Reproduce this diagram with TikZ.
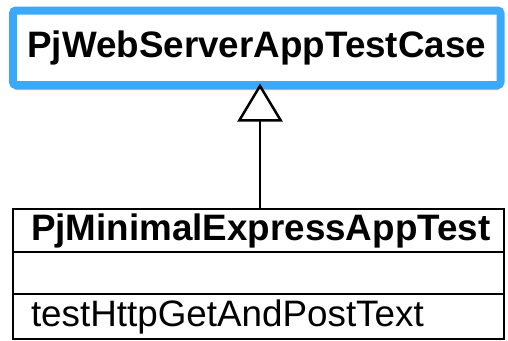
\documentclass[tikz,border=0pt]{standalone}
\usepackage{fontspec}
\setmainfont{Liberation Sans}
\usetikzlibrary{positioning,arrows.meta,shadows}
\definecolor{ClassBlue}{RGB}{60,168,248}

\tikzset{
  uml/.style={font=\fontsize{36.8}{40}\selectfont, inner sep=0pt, outer sep=0pt},
  parent/.style={uml,font=\fontsize{36.8}{40}\selectfont\bfseries,draw=ClassBlue,line width=8pt,fill=white,
    rounded corners=3pt,minimum width=487.5pt,minimum height=74.5pt,
    drop shadow={shadow xshift=0pt,shadow yshift=-5pt,opacity=.4,fill=black!70}},
  part/.style={uml,draw=black,line width=2pt,minimum width=491pt,text width=491pt-36pt,inner xsep=18pt},
  inherit/.style={line width=2.5pt,-{Triangle[open,length=38pt,width=45pt]}}
}

\begin{document}
\begin{tikzpicture}[x=1pt,y=-1pt]
\useasboundingbox (0,0) rectangle (508,340);
% superclass
\node[parent] (base) at (256.75,47.75) {PjWebServerAppTestCase};
% subclass in three compartments
\node[part,font=\fontsize{36.8}{40}\selectfont\bfseries,align=center,minimum height=43pt] (head) at (258.5,230.5) {PjMinimalExpressAppTest};
\node[part,minimum height=42pt,below=0pt of head] (attrs) {};
\node[part,align=left,minimum height=45pt,below=0pt of attrs] (ops) {testHttpGetAndPostText};
% generalisation
\draw[inherit] ([xshift=1.5pt]head.north) -- ([xshift=1.5pt,yshift=1.5pt]head.north |- base.south);
\end{tikzpicture}
\end{document}
